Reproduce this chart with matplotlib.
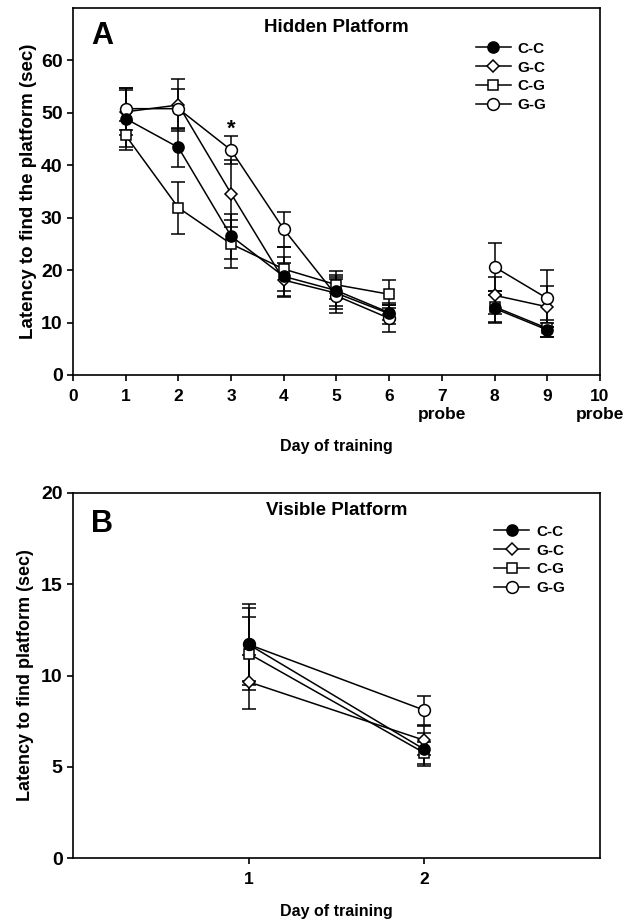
import matplotlib
matplotlib.use('Agg')
import matplotlib.pyplot as plt
from matplotlib.lines import Line2D

plt.rcParams['font.family'] = ['Liberation Sans', 'DejaVu Sans']
plt.rcParams['font.weight'] = 'bold'

groups = ['C-C', 'G-C', 'C-G', 'G-G']
markers = {'C-C': 'o', 'G-C': 'D', 'C-G': 's', 'G-G': 'o'}
faces = {'C-C': 'black', 'G-C': 'white', 'C-G': 'white', 'G-G': 'white'}
msizes = {'C-C': 8, 'G-C': 6.5, 'C-G': 7, 'G-G': 8.5}

# hidden platform (panel A), days 1-6 then 8-9
days_a1 = [1, 2, 3, 4, 5, 6]
days_a2 = [8, 9]
hidden = {
    'C-C': [48.9, 43.4, 26.5, 18.8, 16.1, 11.9, 12.7, 8.6],
    'G-C': [50.2, 51.5, 34.6, 18.1, 15.6, 11.7, 15.2, 13.0],
    'C-G': [45.7, 31.9, 25.0, 20.2, 17.2, 15.4, 13.0, 8.9],
    'G-G': [50.8, 50.8, 42.9, 27.8, 15.1, 10.8, 20.6, 14.6],
}
hidden_err = {
    'C-C': [5.4, 3.7, 4.3, 3.8, 3.0, 1.5, 2.5, 1.3],
    'G-C': [4.5, 4.9, 6.4, 3.2, 3.0, 2.0, 3.5, 3.9],
    'C-G': [2.8, 5.0, 4.6, 4.2, 2.7, 2.7, 3.0, 1.6],
    'G-G': [4.0, 3.8, 2.7, 3.3, 3.2, 2.6, 4.5, 5.4],
}

# visible platform (panel B)
days_b = [1, 2]
visible = {
    'C-C': [11.7, 5.95],
    'G-C': [9.65, 6.45],
    'C-G': [11.2, 5.76],
    'G-G': [11.7, 8.1],
}
visible_err = {
    'C-C': [2.2, 0.9],
    'G-C': [1.5, 0.8],
    'C-G': [2.0, 0.6],
    'G-G': [2.0, 0.8],
}

draw_order = ['C-G', 'G-C', 'G-G', 'C-C']

fig = plt.figure(figsize=(6.43, 9.22), dpi=100)
axA = fig.add_axes([0.1135, 0.5933, 0.8196, 0.398])
axB = fig.add_axes([0.1135, 0.0694, 0.8196, 0.3959])


def style(g):
    return dict(marker=markers[g], mfc=faces[g], mec='black', ms=msizes[g],
                color='black', lw=1.1, mew=1.1, ecolor='black', elinewidth=1.1,
                capsize=5, capthick=1.1)


for g in draw_order:
    n = len(days_a1)
    axA.errorbar(days_a1, hidden[g][:n], yerr=hidden_err[g][:n], **style(g))
    axA.errorbar(days_a2, hidden[g][n:], yerr=hidden_err[g][n:], **style(g))
    axB.errorbar(days_b, visible[g], yerr=visible_err[g], **style(g))

axA.text(3, 46.8, '*', ha='center', va='center', fontsize=16, fontweight='bold')

handles = [Line2D([], [], marker=markers[g], mfc=faces[g], mec='black', color='black',
                  lw=1.1, mew=1.1, ms=msizes[g]) for g in groups]

for ax, anchor in ((axA, (0.91, 0.925)), (axB, (0.945, 0.93))):
    for s in ax.spines.values():
        s.set_linewidth(1.2)
    ax.tick_params(direction='out', length=4, width=1.2)
    ax.tick_params(axis='y', labelsize=14)
    ax.tick_params(axis='x', labelsize=12.5, pad=6)
    leg = ax.legend(handles, groups, loc='upper right', bbox_to_anchor=anchor,
                    frameon=False, fontsize=11, handlelength=2.3, handletextpad=0.45,
                    labelspacing=0.32, borderaxespad=0)
    for t in leg.get_texts():
        t.set_fontweight('bold')

axA.set_xlim(0, 10)
axA.set_ylim(0, 70)
axA.set_xticks(range(11))
axA.set_xticklabels(['0', '1', '2', '3', '4', '5', '6', '7\nprobe', '8', '9', '10\nprobe'],
                    linespacing=1.3)
axA.set_yticks(range(0, 61, 10))
axA.set_xlabel('Day of training', fontsize=11.5, fontweight='bold', labelpad=12)
axA.set_ylabel('Latency to find the platform (sec)', fontsize=13.5, fontweight='bold', labelpad=3)
axA.text(0.5, 0.97, 'Hidden Platform', transform=axA.transAxes, ha='center', va='top',
         fontsize=13.5, fontweight='bold')
axA.text(0.035, 0.965, 'A', transform=axA.transAxes, ha='left', va='top',
         fontsize=22, fontweight='bold')

axB.set_xlim(0, 3)
axB.set_ylim(0, 20)
axB.set_xticks([1, 2])
axB.set_yticks([0, 5, 10, 15, 20])
axB.set_xlabel('Day of training', fontsize=11.5, fontweight='bold', labelpad=12)
axB.set_ylabel('Latency to find platform (sec)', fontsize=13, fontweight='bold', labelpad=5)
axB.text(0.5, 0.975, 'Visible Platform', transform=axB.transAxes, ha='center', va='top',
         fontsize=13.5, fontweight='bold')
axB.text(0.035, 0.955, 'B', transform=axB.transAxes, ha='left', va='top',
         fontsize=22, fontweight='bold')

fig.savefig('out.png', dpi=100)
